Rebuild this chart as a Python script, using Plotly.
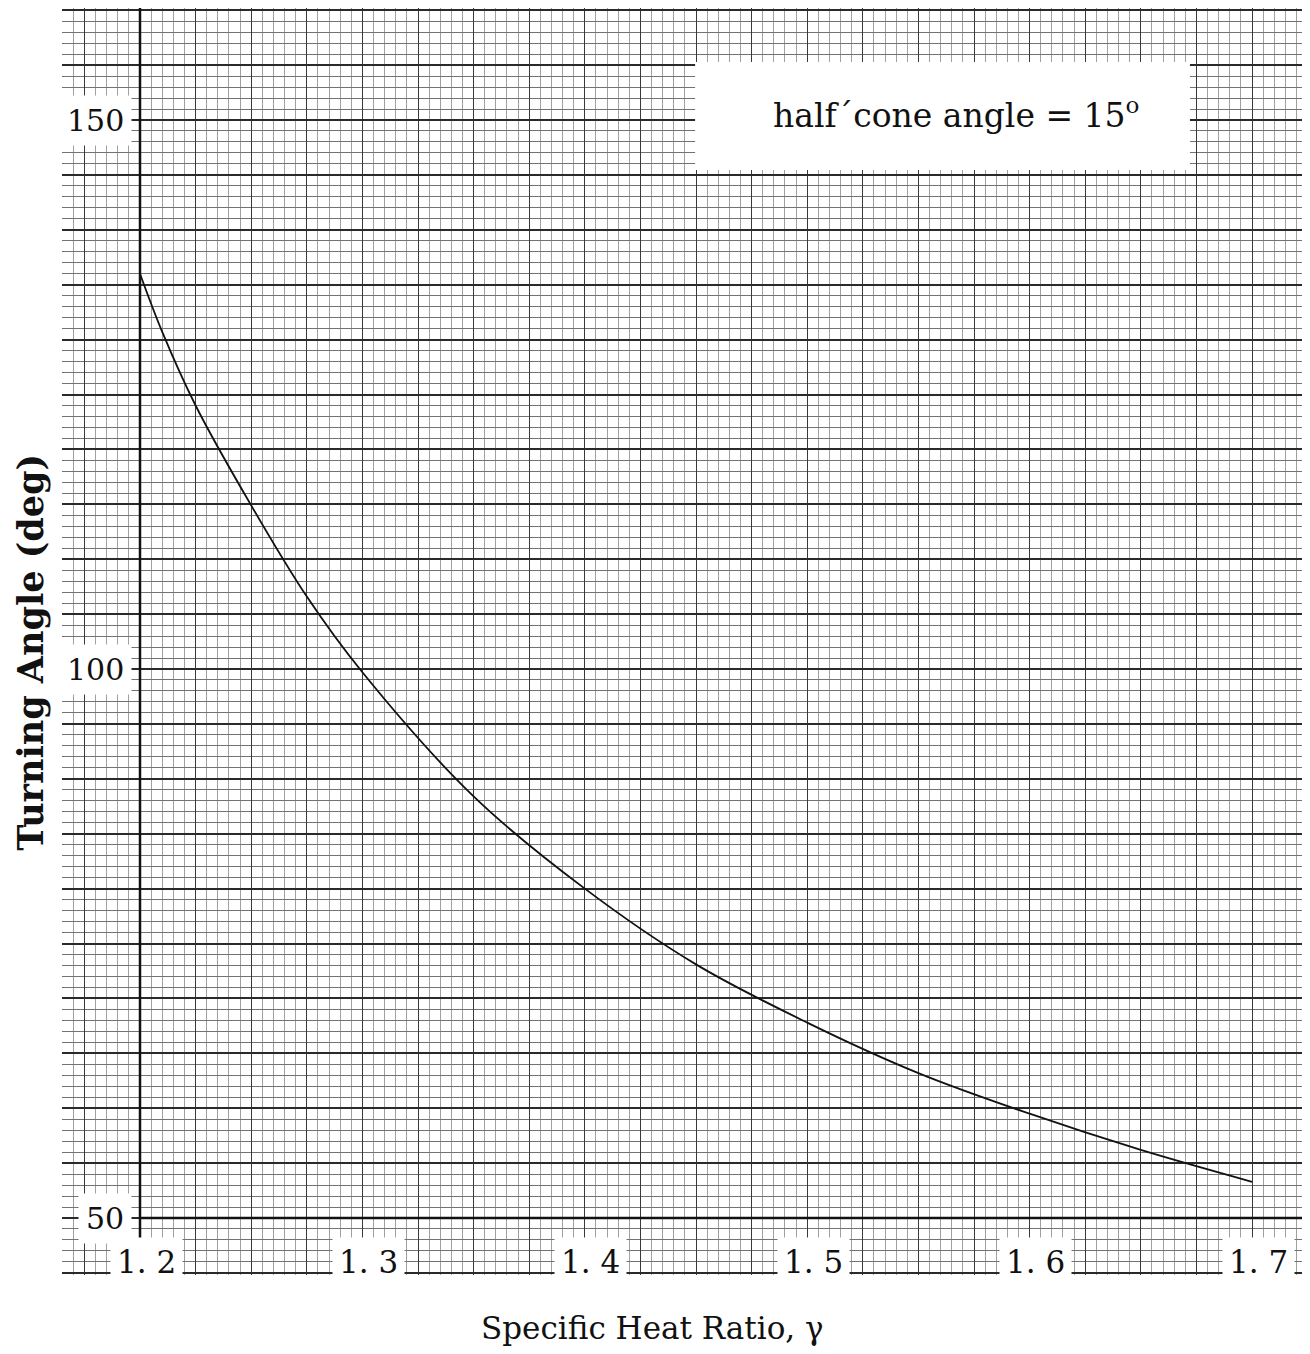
import plotly.graph_objects as go

# ---- data ----
gamma = [1.20, 1.21, 1.225, 1.25, 1.275, 1.30, 1.35, 1.40, 1.45, 1.50, 1.55, 1.60, 1.65, 1.70]
turning = [136.0, 130.7, 124.0, 114.9, 106.6, 99.7, 88.4, 80.0, 73.1, 67.8, 63.2, 59.5, 56.2, 53.3]
x_tick_vals = [1.2, 1.3, 1.4, 1.5, 1.6, 1.7]
x_tick_text = ["1. 2", "1. 3", "1. 4", "1. 5", "1. 6", "1. 7"]
y_tick_vals = [50, 100, 150]
y_tick_text = ["50", "100", "150"]
note_text = "half´cone angle = 15<sup>o</sup>"
x_title = "Specific Heat Ratio, γ"
y_title = "Turning Angle (deg)"

X_RANGE = [1.16493, 1.72383]
Y_RANGE = [44.81, 160.2]
FONT = "DejaVu Serif"

fig = go.Figure()
fig.add_trace(go.Scatter(
    x=gamma, y=turning, mode="lines",
    line=dict(color="#111111", width=1.8, shape="spline", smoothing=1.0),
    showlegend=False, hoverinfo="x+y",
))

fig.update_xaxes(
    range=X_RANGE, showticklabels=False, ticks="", zeroline=False, showline=False,
    tick0=1.2, dtick=0.025, showgrid=True, gridcolor="#3a3a3a", gridwidth=1.4,
    minor=dict(tick0=1.2, dtick=0.005, showgrid=True, gridcolor="#a0a0a0", gridwidth=1),
)
fig.update_yaxes(
    range=Y_RANGE, showticklabels=False, ticks="", zeroline=False, showline=False,
    tick0=50, dtick=5, showgrid=True, gridcolor="#2a2a2a", gridwidth=1.6,
    minor=dict(tick0=50, dtick=1, showgrid=True, gridcolor="#737373", gridwidth=1.2),
)

shapes = []
# heavy axis lines of the graph paper
shapes.append(dict(type="line", xref="x", yref="y", x0=1.2, x1=1.2, y0=48.0, y1=Y_RANGE[1],
                   line=dict(color="#111111", width=2.5), layer="above"))
shapes.append(dict(type="line", xref="x", yref="y", x0=1.2, x1=X_RANGE[1], y0=50, y1=50,
                   line=dict(color="#111111", width=2.5), layer="above"))
# white label box for the note
shapes.append(dict(type="rect", xref="x", yref="y", x0=1.4496, x1=1.6721, y0=145.45, y1=155.28,
                   fillcolor="white", line=dict(width=0), layer="above"))

annotations = []
for v, t in zip(x_tick_vals, x_tick_text):
    annotations.append(dict(x=v, y=0.0105, xref="x", yref="paper", text=t, showarrow=False,
                            xanchor="center", yanchor="middle", xshift=6,
                            bgcolor="white", borderpad=6,
                            font=dict(family=FONT, size=31, color="#111111")))
for v, t in zip(y_tick_vals, y_tick_text):
    annotations.append(dict(x=0.056, y=v, xref="paper", yref="y", text=t, showarrow=False,
                            xanchor="right", yanchor="middle", bgcolor="white", borderpad=7,
                            font=dict(family=FONT, size=30, color="#111111")))
annotations.append(dict(x=1.567, y=150.6, xref="x", yref="y", text=note_text, showarrow=False,
                        xanchor="center", yanchor="middle",
                        font=dict(family=FONT, size=33, color="#111111")))
annotations.append(dict(x=0.475, y=-0.0418, xref="paper", yref="paper", text=x_title, showarrow=False,
                        xanchor="center", yanchor="middle",
                        font=dict(family=FONT, size=31, color="#111111")))
annotations.append(dict(x=-0.026, y=0.4917, xref="paper", yref="paper", text="<b>" + y_title + "</b>",
                        showarrow=False, textangle=-90, xanchor="center", yanchor="middle",
                        font=dict(family=FONT, size=35, color="#111111")))

# the page body has an 8px margin; offset the figure so the plot area lands at 62..1305 x 8..1275
fig.update_layout(
    width=1297, height=1338,
    margin=dict(l=54, r=0, t=0, b=71),
    paper_bgcolor="white", plot_bgcolor="white",
    shapes=shapes, annotations=annotations,
)

fig.write_html("out.html")
